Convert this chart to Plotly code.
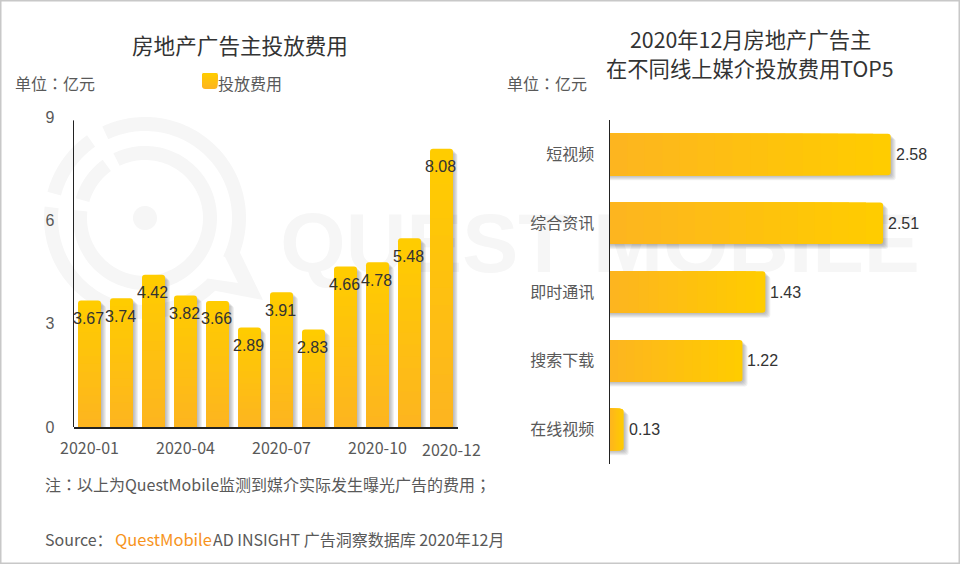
import numpy as np
import plotly.graph_objects as go

W, H = 960, 564

months = ["2020-01", "2020-02", "2020-03", "2020-04", "2020-05", "2020-06",
          "2020-07", "2020-08", "2020-09", "2020-10", "2020-11", "2020-12"]
spend = [3.67, 3.74, 4.42, 3.82, 3.66, 2.89, 3.91, 2.83, 4.66, 4.78, 5.48, 8.08]
month_ticks = ["2020-01", "2020-04", "2020-07", "2020-10"]
value_ticks = [0, 3, 6, 9]

media = ["短视频", "综合资讯", "即时通讯", "搜索下载", "在线视频"]
media_spend = [2.58, 2.51, 1.43, 1.22, 0.13]

CJK = "Noto Sans CJK SC"
CJK_TC = "Noto Sans CJK TC"  # centred full-width punctuation
NUM = "Liberation Sans"
DARK = "#333333"
GREY = "#595959"
AXIS = "#222222"
MARK = "#f6f6f6"
STEPS = 16
SHADOW_PX = [1, 2, 3, 4, 5]
Y_SCALE = 34.45
X_SCALE = 109


def px(x, y):
    return x / W, 1 - y / H


def mix(t):
    # t=0 light end of the bar, t=1 dark end
    r, g, b = 255 - 2 * t, 204 - 23 * t, 0 + 31 * t
    return "rgb({:.0f},{:.0f},{:.0f})".format(r, g, b)


def poly_path(points):
    parts = []
    for i, (x, y) in enumerate(points):
        fx, fy = px(x, y)
        parts.append("{}{:.5f},{:.5f}".format("M" if i == 0 else "L", fx, fy))
    return " ".join(parts) + " Z"


def arc(cx, cy, r, a0, a1, n=70):
    ang = np.radians(np.linspace(a0, a1, n))
    return [(cx + r * np.cos(a), cy - r * np.sin(a)) for a in ang]


def rounded(x0, y0, x1, y1, r):
    pts = arc(x1 - r, y0 + r, r, 90, 0, 6) + arc(x1 - r, y1 - r, r, 0, -90, 6)
    pts += arc(x0 + r, y1 - r, r, -90, -180, 6) + arc(x0 + r, y0 + r, r, 180, 90, 6)
    return poly_path(pts)


def text(x, y, s, size=16, color=GREY, anchor="left", family=CJK):
    fx, fy = px(x, y)
    return dict(x=fx, y=fy, xref="paper", yref="paper", text=s, showarrow=False,
                xanchor=anchor, yanchor="middle", align="center",
                font=dict(family=family, size=size, color=color))


fig = go.Figure()

# watermark sits in its own subplot so the bars cover it
fig.add_trace(go.Scatter(x=[600], y=[251], mode="text", text=["<b>QUEST MOBILE</b>"],
                         textposition="middle center", hoverinfo="skip", showlegend=False,
                         textfont=dict(family=NUM, size=84, color=MARK),
                         xaxis="x", yaxis="y"))

# left chart
bar_w = 23 / 32
x_pos = list(range(len(months)))
for d in SHADOW_PX:
    fig.add_trace(go.Bar(x=[i + d / 32 for i in x_pos], y=[v - d / Y_SCALE for v in spend],
                         width=bar_w, marker=dict(color="rgba(60,60,60,0.075)", line_width=0),
                         hoverinfo="skip", showlegend=False, xaxis="x2", yaxis="y2"))
for k in range(STEPS):
    frac = (STEPS - k) / STEPS
    fig.add_trace(go.Bar(x=x_pos, y=[v * frac for v in spend], width=bar_w,
                         name="投放费用" if k == 0 else None,
                         marker=dict(color=mix(k / (STEPS - 1)), line_width=0),
                         hoverinfo="x+y" if k == 0 else "skip", showlegend=False,
                         xaxis="x2", yaxis="y2"))

# right chart
bar_h = 41.5 / 68.75
y_pos = list(range(len(media)))
for d in SHADOW_PX:
    fig.add_trace(go.Bar(y=[i + d / 68.75 for i in y_pos], x=[v + d / X_SCALE for v in media_spend],
                         width=bar_h, orientation="h",
                         marker=dict(color="rgba(60,60,60,0.075)", line_width=0),
                         hoverinfo="skip", showlegend=False, xaxis="x3", yaxis="y3"))
for k in range(STEPS):
    frac = (STEPS - k) / STEPS
    fig.add_trace(go.Bar(y=y_pos, x=[v * frac for v in media_spend], width=bar_h, orientation="h",
                         marker=dict(color=mix(k / (STEPS - 1)), line_width=0),
                         hoverinfo="x+y" if k == 0 else "skip", showlegend=False,
                         xaxis="x3", yaxis="y3"))

annotations = [
    text(240, 45, "房地产广告主投放费用", 21.6, DARK, "center"),
    text(750, 38, "2020年12月房地产广告主", 21.3, DARK, "center"),
    text(750, 68, "在不同线上媒介投放费用TOP5", 21.3, DARK, "center"),
    text(13, 83, "单位：亿元", family=CJK_TC),
    text(505, 83, "单位：亿元", family=CJK_TC),
    text(216, 83, "投放费用"),
    text(43, 484, "注：以上为QuestMobile监测到媒介实际发生曝光广告的费用；", 16, family=CJK_TC),
    text(43, 539, "Source："),
    text(113, 539, "QuestMobile", 16.5, "#F7941D"),
    text(211, 539, "AD INSIGHT 广告洞察数据库 2020年12月"),
]

for i, v in zip(x_pos, spend):
    annotations.append(dict(x=i, y=v, xref="x2", yref="y2", text="{:.2f}".format(v), showarrow=False,
                            xshift=-1, yshift=-18, font=dict(family=NUM, size=16, color=DARK)))
for i, v in zip(y_pos, media_spend):
    annotations.append(dict(x=v, y=i, xref="x3", yref="y3", text="{:.2f}".format(v), showarrow=False,
                            xanchor="left", xshift=3, yshift=0, font=dict(family=NUM, size=16, color=DARK)))

# last month label is pushed right of its bar
annotations.append(dict(x=11, y=px(0, 449)[1], xref="x2", yref="paper", text=months[11], showarrow=False,
                        xshift=9.5, yanchor="middle", font=dict(family=CJK, size=16, color=GREY)))

# logo watermark
cx, cy = 145, 218
shapes = [
    dict(type="path", layer="below", xref="paper", yref="paper", line_width=0, fillcolor=MARK,
         path=poly_path(arc(cx, cy, 101, 115, -20) + [(263, 300)] + arc(cx, cy, 101, -46, -186.5)
                        + arc(cx, cy, 87, -186.5, -44) + [(238, 283), (225, 257)] + arc(cx, cy, 87, -26, 115))),
    dict(type="path", layer="below", xref="paper", yref="paper", line_width=0, fillcolor=MARK,
         path=poly_path(arc(cx, cy, 101, 165, 125) + arc(cx, cy, 87, 125, 165))),
    dict(type="path", layer="below", xref="paper", yref="paper", line_width=0, fillcolor=MARK,
         path=poly_path(arc(cx, cy, 72, 116, -186.4, 120) + arc(cx, cy, 58, -186.4, 116, 120))),
    dict(type="path", layer="below", xref="paper", yref="paper", line_width=0, fillcolor=MARK,
         path=poly_path(arc(cx, cy, 72, 164, 126) + arc(cx, cy, 58, 126, 164))),
    dict(type="path", layer="below", xref="paper", yref="paper", line_width=0, fillcolor=MARK,
         path=poly_path(arc(cx, cy, 12, 0, 360))),
    # page frame
    dict(type="rect", xref="paper", yref="paper", x0=0, y0=0, x1=1, y1=1, line=dict(color="#c8c8c8", width=3)),
    # left value axis stops just under the 9
    dict(type="line", xref="x2 domain", yref="y2", x0=0, x1=0, y0=0, y1=8.9, line=dict(color=AXIS, width=1)),
]

# legend swatch
for k in range(8):
    bottom = 89 - k * 2
    shapes.append(dict(type="path", xref="paper", yref="paper", line_width=0, fillcolor=mix(1 - k / 7),
                       path=rounded(202, 73, 217.5, bottom, 3)))

fig.update_layout(
    width=W, height=H,
    margin=dict(l=0, r=0, t=0, b=0, autoexpand=False),
    paper_bgcolor="white", plot_bgcolor="rgba(0,0,0,0)",
    barmode="overlay", barcornerradius=3, showlegend=False,
    annotations=annotations, shapes=shapes,
    font=dict(family=CJK, color=GREY, size=16),
    xaxis=dict(domain=[0, 1], range=[0, W], visible=False, fixedrange=True),
    yaxis=dict(domain=[0, 1], range=[H, 0], visible=False, fixedrange=True),
    xaxis2=dict(domain=[73.5 / W, 457.5 / W], range=[-0.5, 11.5], anchor="y2",
                tickvals=[months.index(m) for m in month_ticks], ticktext=month_ticks,
                showline=True, linecolor=AXIS, linewidth=1.5, showgrid=False, zeroline=False,
                ticks="", ticklabelstandoff=6, tickfont=dict(family=CJK, size=16, color=GREY)),
    yaxis2=dict(domain=[1 - 427 / H, 1 - (427 - 9 * Y_SCALE) / H], range=[0, 9], anchor="x2",
                tickvals=value_ticks, showline=False, showgrid=False, zeroline=False,
                ticks="", ticklabelstandoff=18, tickfont=dict(family=NUM, size=16, color=GREY)),
    xaxis3=dict(domain=[609.5 / W, (609.5 + 3 * X_SCALE) / W], range=[0, 3], anchor="y3", visible=False),
    yaxis3=dict(domain=[1 - 464 / H, 1 - 120 / H], range=[4.5, -0.5], anchor="x3",
                tickvals=y_pos, ticktext=media, showline=True, linecolor=AXIS, linewidth=1,
                showgrid=False, zeroline=False, ticks="", ticklabelstandoff=11,
                tickfont=dict(family=CJK, size=16, color=GREY)),
)

fig.write_html("out.html", config={"displayModeBar": False},
               post_script="document.body.style.margin='0';document.body.style.overflow='hidden';")
